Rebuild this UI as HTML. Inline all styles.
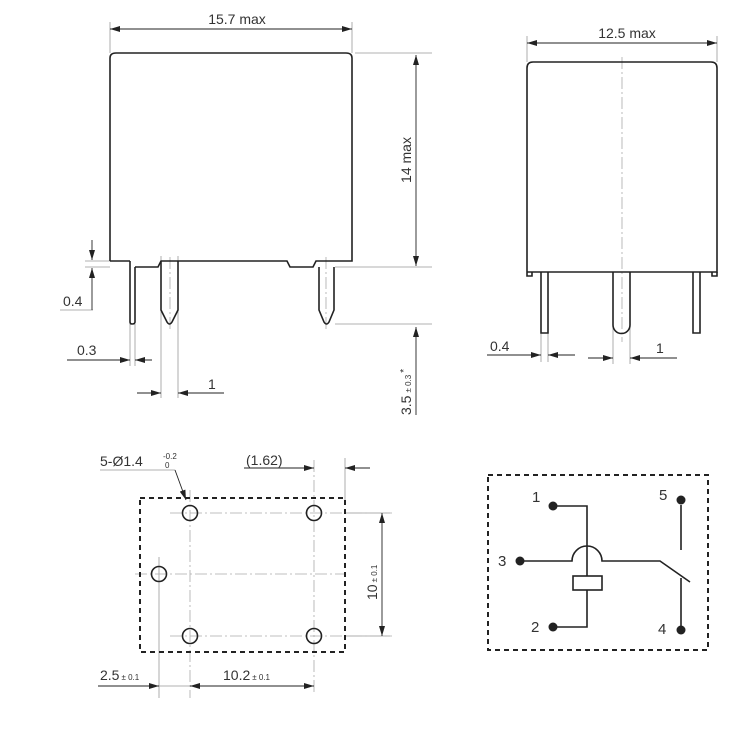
<!DOCTYPE html>
<html><head><meta charset="utf-8"><style>body{margin:0;background:#fff}svg{display:block}text{font-family:"Liberation Sans",sans-serif;fill:#333}</style></head><body>
<svg width="750" height="750" viewBox="0 0 750 750" xmlns="http://www.w3.org/2000/svg">
<defs>
<marker id="a" viewBox="0 0 10 6" refX="10" refY="3" markerWidth="12" markerHeight="6" orient="auto" markerUnits="userSpaceOnUse"><path d="M0,0L10,3L0,6z" fill="#222"/></marker>
</defs>
<g fill="none" stroke="#999" stroke-width="0.8">
<path d="M110 22V53M352 22V53M355 53H432M335 267H432M335 324H432M85 261H110M85 267H110M60 310H93M130 324V366M135 324V366M161 256V398M178 256V398"/>
<path d="M527 36V62M717 36V62M541 328V362M548 328V362M613 328V364M630 328V364"/>
<path d="M345 458V500M100 470H175M159 557V698M98 686H314M390 513H345M390 636H345"/>
</g>
<g fill="none" stroke="#aaa" stroke-width="0.8" stroke-dasharray="12,3,2,3">
<path d="M622 57V342M170 513H392M135 574H345M170 636H392M190 490V698M314 460V692M170 257V330M326 257V330"/>
</g>
<g fill="none" stroke="#222" stroke-width="0.9">
<path d="M231 29H110" marker-end="url(#a)"/><path d="M231 29H352" marker-end="url(#a)"/>
<path d="M416 160V55" marker-end="url(#a)"/><path d="M416 160V266" marker-end="url(#a)"/>
<path d="M416 415V327" marker-end="url(#a)"/>
<path d="M92 240V260" marker-end="url(#a)"/><path d="M92 310V268" marker-end="url(#a)"/>
<path d="M67 360H130" marker-end="url(#a)"/><path d="M152 360H135" marker-end="url(#a)"/>
<path d="M137 393H161" marker-end="url(#a)"/><path d="M224 393H178" marker-end="url(#a)"/>
<path d="M622 43H527" marker-end="url(#a)"/><path d="M622 43H717" marker-end="url(#a)"/>
<path d="M487 355H541" marker-end="url(#a)"/><path d="M575 355H548" marker-end="url(#a)"/>
<path d="M588 358H613" marker-end="url(#a)"/><path d="M677 358H630" marker-end="url(#a)"/>
<path d="M244 468H314" marker-end="url(#a)"/><path d="M370 468H345" marker-end="url(#a)"/>
<path d="M382 575V513" marker-end="url(#a)"/><path d="M382 575V636" marker-end="url(#a)"/>
<path d="M98 686H159" marker-end="url(#a)"/><path d="M250 686H190" marker-end="url(#a)"/><path d="M250 686H314" marker-end="url(#a)"/>
<path d="M175 470L186 500" marker-end="url(#a)"/>
</g>
<g fill="none" stroke="#222" stroke-width="1.6">
<path d="M110 261V58Q110 53 116 53H346Q352 53 352 58V261H316L313 267H290L287 261H161L158 267H135M130 261H110"/>
<path d="M130 261V322Q130 324 132 324Q135 324 135 322V267"/>
<path d="M161 261V310L167 322Q169.5 326 172 322L178 310V261"/>
<path d="M319 267V310L324 322Q326.5 326 329 322L334 310V267"/>
<path d="M527 272V68Q527 62 533 62H711Q717 62 717 68V272H527"/>
<path d="M527 272V276H532V272M712 272V276H717V272"/>
<path d="M541 272V333H548V272M693 272V333H700V272"/>
<path d="M613 272V325A8.5 8.5 0 0 0 630 325V272"/>
<circle cx="190" cy="513" r="7.5"/><circle cx="314" cy="513" r="7.5"/><circle cx="159" cy="574" r="7.5"/><circle cx="190" cy="636" r="7.5"/><circle cx="314" cy="636" r="7.5"/>
</g>
<g fill="none" stroke="#222" stroke-width="2" stroke-dasharray="5,4">
<rect x="140" y="498" width="205" height="154"/>
<rect x="488" y="475" width="220" height="175"/>
</g>
<g fill="none" stroke="#222" stroke-width="1.6">
<path d="M553 506H587V576M587 590V627H553"/>
<rect x="573" y="576" width="29" height="14"/>
<path d="M520 561H572A15 15 0 0 1 602 561H660L690 582M681 578V630M681 505V550"/>
</g>
<g fill="#222"><circle cx="553" cy="506" r="4.5"/><circle cx="520" cy="561" r="4.5"/><circle cx="553" cy="627" r="4.5"/><circle cx="681" cy="500" r="4.5"/><circle cx="681" cy="630" r="4.5"/></g>
<g font-size="14">
<text x="237" y="24" text-anchor="middle">15.7 max</text>
<text x="627" y="38" text-anchor="middle">12.5 max</text>
<text transform="translate(411,160) rotate(-90)" text-anchor="middle">14 max</text>
<text transform="translate(411,415) rotate(-90)">3.5<tspan font-size="8" dx="3">± 0.3</tspan><tspan dx="2" dy="-4" font-size="10">*</tspan></text>
<text x="63" y="306">0.4</text>
<text x="77" y="355">0.3</text>
<text x="208" y="389">1</text>
<text x="490" y="351">0.4</text>
<text x="656" y="353">1</text>
<text x="100" y="466">5-Ø1.4</text>
<text x="163" y="459" font-size="8">-0.2</text><text x="165" y="468" font-size="8">0</text>
<text x="246" y="465">(1.62)</text>
<text transform="translate(377,600) rotate(-90)">10<tspan font-size="8" dx="2">± 0.1</tspan></text>
<text x="100" y="680">2.5<tspan font-size="8" dx="2">± 0.1</tspan></text>
<text x="223" y="680">10.2<tspan font-size="8" dx="2">± 0.1</tspan></text>
<text x="532" y="502" font-size="15">1</text>
<text x="498" y="566" font-size="15">3</text>
<text x="531" y="632" font-size="15">2</text>
<text x="659" y="500" font-size="15">5</text>
<text x="658" y="634" font-size="15">4</text>
</g>
</svg>
</body></html>
